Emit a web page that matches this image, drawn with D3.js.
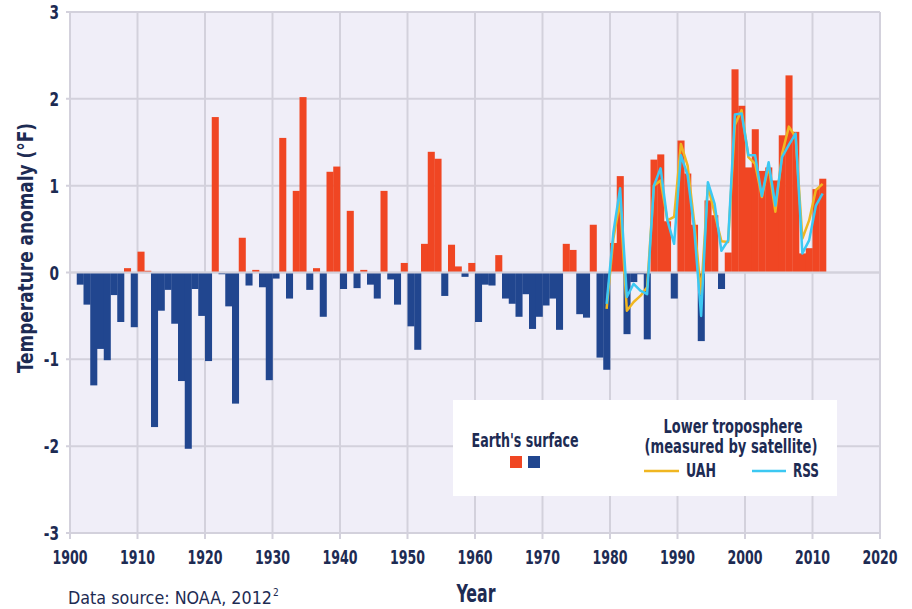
<!DOCTYPE html>
<html lang="en">

<head>
  <meta charset="UTF-8">
  <title>Temperature anomaly</title>
  <style>
    body { margin: 0; background: #fff; }
    text { font-family: "DejaVu Sans Condensed", "Liberation Sans", sans-serif; fill: #1d2b53; }
  </style>
</head>

<body>

  <svg id="chart" width="912" height="609"></svg>

  <script src="https://d3js.org/d3.v7.min.js"></script>

  <script>
    // surface anomaly (°F), one value per year from 1901
    var firstYear = 1901;
    var surface = [
      -0.14, -0.37, -1.30, -0.88, -1.01, -0.26, -0.57, 0.05, -0.63, 0.24,
      0.02, -1.78, -0.44, -0.20, -0.59, -1.25, -2.03, -0.19, -0.50, -1.02,
      1.79, -0.02, -0.39, -1.51, 0.40, -0.15, 0.03, -0.17, -1.24, -0.07,
      1.55, -0.30, 0.94, 2.02, -0.20, 0.05, -0.51, 1.16, 1.22, -0.19,
      0.71, -0.18, 0.03, -0.14, -0.30, 0.94, -0.08, -0.37, 0.11, -0.62,
      -0.89, 0.33, 1.39, 1.31, -0.27, 0.32, 0.07, -0.05, 0.11, -0.57,
      -0.14, -0.15, 0.20, -0.30, -0.36, -0.51, -0.25, -0.65, -0.51, -0.38,
      -0.30, -0.66, 0.33, 0.26, -0.48, -0.52, 0.55, -0.98, -1.12, 0.34,
      1.11, -0.71, -0.11, -0.02, -0.77, 1.30, 1.36, 0.59, -0.30, 1.52,
      1.14, 0.55, -0.79, 0.83, 0.66, -0.19, 0.23, 2.34, 1.92, 1.21,
      1.65, 1.17, 1.21, 1.06, 1.58, 2.27, 1.62, 0.22, 0.28, 0.96,
      1.08
    ];

    // satellite series from 1979
    var satFirstYear = 1979;
    var uah = [
      -0.42, 0.39, 0.83, -0.44, -0.34, -0.27, -0.17, 1.00, 1.06, 0.60,
      0.64, 1.48, 1.23, 0.56, -0.25, 1.00, 0.68, 0.36, 0.35, 1.70,
      1.87, 1.33, 1.25, 0.87, 1.23, 0.70, 1.37, 1.68, 1.56, 0.39,
      0.60, 0.95, 1.02
    ];
    var rss = [
      -0.36, 0.46, 0.97, -0.28, -0.13, -0.21, -0.25, 1.00, 1.20, 0.60,
      0.33, 1.35, 1.12, 0.48, -0.50, 1.04, 0.79, 0.25, 0.37, 1.82,
      1.83, 1.35, 1.35, 0.88, 1.27, 0.77, 1.33, 1.47, 1.60, 0.22,
      0.37, 0.77, 0.91
    ];

    var xTicks = [1900, 1910, 1920, 1930, 1940, 1950, 1960, 1970, 1980, 1990, 2000, 2010, 2020];
    var yTicks = [-3, -2, -1, 0, 1, 2, 3];

    var svg = d3.select("#chart"),
      gridColor = "#d3d1dc",
      red = "#f04623",
      blue = "#21468f",
      gold = "#f0b621",
      cyan = "#3cc8f2",
      x = d3.scaleLinear().domain([1900, 2020]).range([70, 880]),
      y = d3.scaleLinear().domain([-3, 3]).range([533, 12]);

    // squeeze text to a narrow look (the original font is a condensed one)
    function squeeze(sel, w) {
      sel.attr("textLength", w).attr("lengthAdjust", "spacingAndGlyphs");
    }
    function squeezeBy(sel, f) {
      sel.each(function() {
        var l = this.getComputedTextLength();
        d3.select(this).attr("textLength", l * f).attr("lengthAdjust", "spacingAndGlyphs");
      });
    }

    // plot background
    svg.append("rect")
      .attr("x", x(1900)).attr("y", y(3))
      .attr("width", x(2020) - x(1900)).attr("height", y(-3) - y(3))
      .attr("fill", "#f0eef8");

    // grid
    svg.append("g").selectAll("line").data(xTicks).join("line")
      .attr("x1", d => x(d)).attr("x2", d => x(d))
      .attr("y1", y(3)).attr("y2", y(-3) + 6)
      .attr("stroke", gridColor).attr("stroke-width", 2);

    svg.append("g").selectAll("line").data(yTicks).join("line")
      .attr("x1", x(1900) - 4).attr("x2", x(2020))
      .attr("y1", d => y(d)).attr("y2", d => y(d))
      .attr("stroke", gridColor).attr("stroke-width", 2);

    // bars
    svg.append("g").selectAll("rect").data(surface).join("rect")
      .attr("x", (d, i) => x(firstYear + i))
      .attr("width", (d, i) => x(firstYear + i + 1) - x(firstYear + i) + 0.3)
      .attr("y", d => d > 0 ? y(d) : y(0))
      .attr("height", d => Math.abs(y(d) - y(0)))
      .attr("fill", d => d > 0 ? red : blue);

    // zero line over the bars
    svg.append("line")
      .attr("x1", x(1900)).attr("x2", x(2020))
      .attr("y1", y(0)).attr("y2", y(0))
      .attr("stroke", gridColor).attr("stroke-width", 2);

    // satellite lines
    var line = d3.line()
      .x((d, i) => x(satFirstYear + i + 0.5))
      .y(d => y(d));

    svg.append("path").datum(uah)
      .attr("d", line).attr("fill", "none")
      .attr("stroke", gold).attr("stroke-width", 2.5)
      .attr("stroke-linejoin", "round");

    svg.append("path").datum(rss)
      .attr("d", line).attr("fill", "none")
      .attr("stroke", cyan).attr("stroke-width", 2.5)
      .attr("stroke-linejoin", "round");

    // tick labels
    var yLabels = svg.append("g").selectAll("text").data(yTicks).join("text")
      .attr("x", 59).attr("y", d => y(d) + 7)
      .attr("text-anchor", "end")
      .attr("font-size", 19).attr("font-weight", "bold")
      .text(d => d);
    squeezeBy(yLabels, 0.8);

    var xLabels = svg.append("g").selectAll("text").data(xTicks).join("text")
      .attr("x", d => x(d)).attr("y", 564)
      .attr("text-anchor", "middle")
      .attr("font-size", 20).attr("font-weight", "bold")
      .text(d => d);
    squeeze(xLabels, 35);

    // axis titles
    var yTitle = svg.append("text")
      .attr("transform", "translate(33,248) rotate(-90)")
      .attr("text-anchor", "middle")
      .attr("font-size", 21).attr("font-weight", "bold")
      .text("Temperature anomaly (°F)");
    squeeze(yTitle, 250);

    var xTitle = svg.append("text")
      .attr("x", 476).attr("y", 602)
      .attr("text-anchor", "middle")
      .attr("font-size", 25).attr("font-weight", "bold")
      .text("Year");
    squeeze(xTitle, 39);

    var src = svg.append("text")
      .attr("x", 68).attr("y", 604)
      .attr("font-family", "Lato, 'Open Sans', sans-serif")
      .attr("font-size", 17)
      .text("Data source: NOAA, 2012");
    squeeze(src, 204);
    svg.append("text")
      .attr("x", 273).attr("y", 596)
      .attr("font-family", "Lato, 'Open Sans', sans-serif")
      .attr("font-size", 10)
      .text("2");

    // legend
    var legend = svg.append("g");
    legend.append("rect")
      .attr("x", 453).attr("y", 400).attr("width", 384).attr("height", 96)
      .attr("fill", "#fff");

    squeeze(legend.append("text")
      .attr("x", 525).attr("y", 447).attr("text-anchor", "middle")
      .attr("font-size", 19).attr("font-weight", "bold")
      .text("Earth's surface"), 107);
    legend.append("rect").attr("x", 510).attr("y", 456).attr("width", 12).attr("height", 12).attr("fill", red);
    legend.append("rect").attr("x", 528).attr("y", 456).attr("width", 12).attr("height", 12).attr("fill", blue);

    squeeze(legend.append("text")
      .attr("x", 733).attr("y", 433).attr("text-anchor", "middle")
      .attr("font-size", 19).attr("font-weight", "bold")
      .text("Lower troposphere"), 139);
    squeeze(legend.append("text")
      .attr("x", 731).attr("y", 453).attr("text-anchor", "middle")
      .attr("font-size", 19).attr("font-weight", "bold")
      .text("(measured by satellite)"), 173);

    legend.append("line").attr("x1", 644).attr("x2", 679).attr("y1", 471).attr("y2", 471)
      .attr("stroke", gold).attr("stroke-width", 2.5);
    squeeze(legend.append("text").attr("x", 686).attr("y", 477)
      .attr("font-size", 19).attr("font-weight", "bold").text("UAH"), 30);

    legend.append("line").attr("x1", 752).attr("x2", 786).attr("y1", 471).attr("y2", 471)
      .attr("stroke", cyan).attr("stroke-width", 2.5);
    squeeze(legend.append("text").attr("x", 793).attr("y", 477)
      .attr("font-size", 19).attr("font-weight", "bold").text("RSS"), 26);
  </script>

</body>

</html>
